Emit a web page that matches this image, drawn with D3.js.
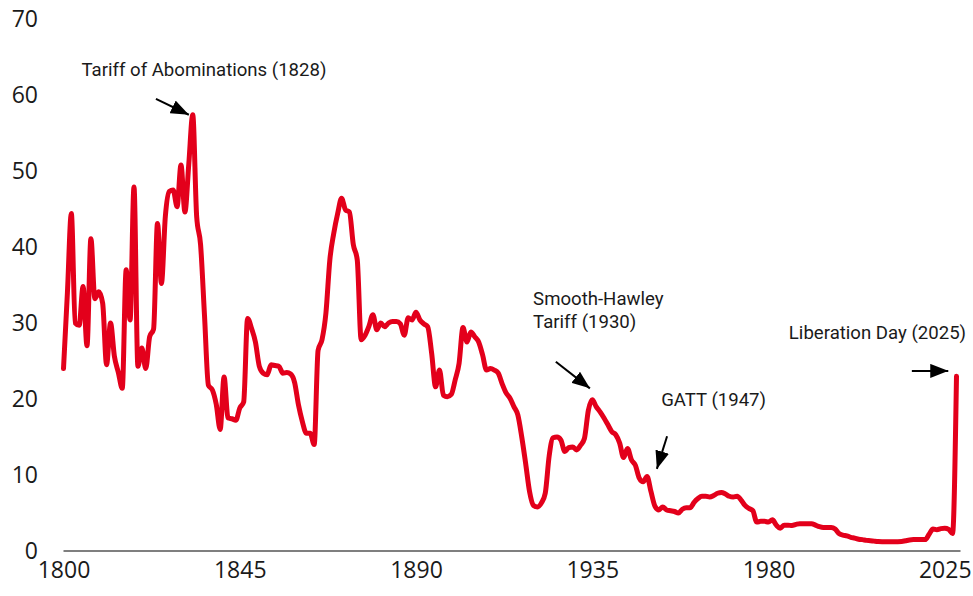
<!DOCTYPE html>
<html>
<head>
<meta charset="utf-8">
<script src="https://cdn.jsdelivr.net/npm/d3@7"></script>
<style>
    body { margin: 0; background: #fff; }
    .tick text { font-family: "Open Sans", "Noto Sans", sans-serif; fill: #1a1a1a; }
    .note { font-family: Roboto, "Noto Sans", sans-serif; font-size: 18.6px; fill: #1a1a1a; }
</style>
</head>
<body>
<script>
// Average US tariff rate, % (one value per year step on the chart's axis)
var startYear = 1800;
var tariff = [
    24.0, 34.0, 44.4, 30.0, 29.7, 34.8, 27.0, 41.1, 33.2, 34.1, // 1800s
    32.6, 24.5, 30.0, 25.6, 23.5, 21.4, 37.0, 30.4, 47.9, 24.3,
    26.7, 24.0, 28.2, 29.2, 43.1, 35.2, 44.0, 47.3, 47.5, 45.3,
    50.8, 44.6, 51.0, 57.4, 44.0, 40.3, 31.0, 21.8, 21.2, 19.3,
    16.0, 22.9, 17.5, 17.4, 17.2, 18.8, 19.6, 30.6, 29.3, 27.5,
    24.3, 23.4, 23.2, 24.5, 24.4, 24.3, 23.4, 23.5, 23.3, 22.2,
    19.2, 17.0, 15.5, 15.5, 14.0, 26.4, 27.8, 31.3, 38.3, 41.8,
    44.4, 46.4, 44.9, 44.6, 40.3, 38.3, 27.8, 28.4, 29.6, 31.1,
    29.1, 30.0, 29.5, 30.0, 30.2, 30.2, 29.9, 28.4, 30.7, 30.4,
    31.4, 30.4, 29.9, 29.5, 26.0, 21.6, 23.8, 20.5, 20.3, 20.6,
    22.5, 24.7, 29.4, 27.5, 28.8, 28.2, 27.5, 25.8, 23.8, 24.0, // 1900s
    23.8, 23.4, 22.0, 20.8, 20.1, 19.0, 17.9, 15.0, 11.5, 7.8,
    6.0, 5.8, 6.3, 7.6, 12.5, 14.9, 15.0, 14.6, 13.1, 13.6,
    13.7, 13.3, 13.9, 14.8, 18.5, 19.9, 19.0, 18.3, 17.5, 16.6,
    15.7, 15.3, 14.2, 12.3, 13.5, 12.0, 11.3, 9.6, 9.1, 9.8,
    7.8, 5.9, 5.4, 5.8, 5.4, 5.3, 5.2, 5.0, 5.5, 5.7,
    5.7, 6.4, 6.9, 7.2, 7.2, 7.1, 7.3, 7.6, 7.7, 7.5,
    7.2, 7.1, 7.2, 6.7, 6.0, 5.6, 5.3, 3.8, 3.9, 3.9,
    3.8, 4.1, 3.4, 3.0, 3.4, 3.4, 3.35, 3.5, 3.6, 3.6,
    3.6, 3.6, 3.4, 3.2, 3.1, 3.1, 3.1, 2.9, 2.3, 2.1,
    2.0, 1.8, 1.7, 1.55, 1.5, 1.4, 1.36, 1.3, 1.25, 1.23, // 2000s
    1.23, 1.23, 1.23, 1.23, 1.25, 1.35, 1.45, 1.5, 1.5, 1.5,
    1.5, 2.2, 2.9, 2.8, 2.95, 3.0, 2.85, 2.3, 23.0
];

var xTicks = [1800, 1845, 1890, 1935, 1980, 2025];
var yTicks = [0, 10, 20, 30, 40, 50, 60, 70];

// annotations: text anchor and arrow (from -> to) in chart units
var notes = [
    { lines: ["Tariff of Abominations (1828)"], x: 1804.6, y: 63.3, from: [1823.6, 59.5], to: [1832.0, 57.4] },
    { lines: ["Smooth-Hawley", "Tariff (1930)"], x: 1919.9, y: 33.2, from: [1925.7, 24.9], to: [1934.4, 21.4] },
    { lines: ["GATT (1947)"], x: 1952.6, y: 20.0, from: [1954.1, 15.1], to: [1951.5, 10.8] },
    { lines: ["Liberation Day (2025)"], x: 1985.2, y: 28.8, from: [2016.6, 23.7], to: [2025.9, 23.7] }
];

var width = 973,
    height = 596;

var points = tariff.map(function(v, i) { return { year: startYear + i, value: v }; });

var x = d3.scaleLinear()
    .domain([startYear, startYear + tariff.length - 1])
    .range([63.5, 956.5]);

var y = d3.scaleLinear()
    .domain([0, 70])
    .range([551, 19]);

var svg = d3.select("body").append("svg")
    .attr("width", width)
    .attr("height", height);

svg.append("defs").append("marker")
    .attr("id", "head")
    .attr("markerUnits", "userSpaceOnUse")
    .attr("viewBox", "0 0 18 14")
    .attr("markerWidth", 18)
    .attr("markerHeight", 14)
    .attr("refX", 18)
    .attr("refY", 7)
    .attr("orient", "auto")
    .append("path")
    .attr("d", "M0,0L18,7L0,14Z")
    .attr("fill", "#000");

// y axis, labels only
var yAxis = svg.append("g")
    .attr("transform", "translate(38,0)")
    .call(d3.axisLeft(y).tickValues(yTicks).tickSize(0).tickPadding(0));
yAxis.select(".domain").remove();
yAxis.selectAll("text").attr("font-size", 23);

// x axis
var xAxis = svg.append("g")
    .attr("transform", "translate(0," + y(0) + ")")
    .call(d3.axisBottom(x).tickValues(xTicks).tickFormat(d3.format("d")).tickSize(0).tickSizeOuter(0).tickPadding(20));
xAxis.select(".domain")
    .attr("stroke", "#7f7f7f")
    .attr("stroke-width", 2)
    .attr("d", "M" + x.range()[0] + ",0H" + (x.range()[1] + 4));
xAxis.selectAll("text").attr("font-size", 23).attr("dy", "0.3em");

var line = d3.line()
    .curve(d3.curveMonotoneX)
    .x(function(d) { return x(d.year); })
    .y(function(d) { return y(d.value); });

svg.append("path")
    .datum(points)
    .attr("fill", "none")
    .attr("stroke", "#e3001b")
    .attr("stroke-width", 5)
    .attr("stroke-linejoin", "round")
    .attr("stroke-linecap", "round")
    .attr("d", line);

var note = svg.selectAll(".notes")
    .data(notes)
    .enter().append("g");

note.append("text")
    .attr("class", "note")
    .attr("x", function(d) { return x(d.x); })
    .attr("y", function(d) { return y(d.y); })
    .selectAll("tspan")
    .data(function(d) { return d.lines; })
    .enter().append("tspan")
    .attr("x", function() { return this.parentNode.getAttribute("x"); })
    .attr("dy", function(d, i) { return i ? 23 : "0.35em"; })
    .text(function(d) { return d; });

note.append("line")
    .attr("x1", function(d) { return x(d.from[0]); })
    .attr("y1", function(d) { return y(d.from[1]); })
    .attr("x2", function(d) { return x(d.to[0]); })
    .attr("y2", function(d) { return y(d.to[1]); })
    .attr("stroke", "#000")
    .attr("stroke-width", 2)
    .attr("marker-end", "url(#head)");
</script>
</body>
</html>
